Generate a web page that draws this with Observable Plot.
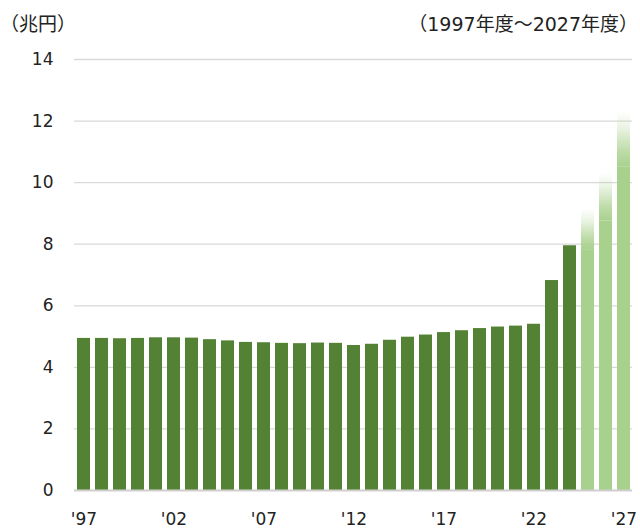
<!DOCTYPE html>
<html>
<head>
<meta charset="utf-8">
<script src="https://cdn.jsdelivr.net/npm/d3@7"></script>
<script src="https://cdn.jsdelivr.net/npm/@observablehq/plot@0.6"></script>
<style>
  html, body { margin: 0; padding: 0; background: #fff; }
  body { width: 640px; height: 529px; overflow: hidden; font-family: "DejaVu Sans", "Noto Sans CJK JP", sans-serif; color: #222; }
  .head { display: flex; justify-content: space-between; align-items: center; height: 40px; padding: 4px 2px 0 0; box-sizing: border-box; font-size: 19px; font-family: "DejaVu Sans", "Noto Sans CJK JP", sans-serif; }
  #chart svg { display: block; }
</style>
</head>
<body>
<div class="head"><span>（兆円）</span><span>（1997年度～2027年度）</span></div>
<div id="chart"></div>
<script>
// Fiscal years
const years = d3.range(1997, 2028);
// Defense budget, trillion yen (solid portion)
const values = [
  4.94, 4.94, 4.93, 4.94, 4.96, 4.96, 4.95, 4.90, 4.86, 4.81,
  4.80, 4.78, 4.77, 4.79, 4.78, 4.71, 4.75, 4.88, 4.98, 5.05,
  5.13, 5.19, 5.26, 5.31, 5.34, 5.40, 6.82, 7.95,
  7.80, 8.75, 10.50
];
// Upper end of the faded (projected) range for the last three years
const projYears = [2025, 2026, 2027];
const projTop = [9.15, 10.30, 12.30];
// Axis ticks
const yTicks = [0, 2, 4, 6, 8, 10, 12, 14];
const xTicks = [1997, 2002, 2007, 2012, 2017, 2022, 2027];

const data = years.map((y, i) => ({year: y, value: values[i], proj: projYears.includes(y)}));
const projData = projYears.map((y, i) => ({year: y, base: values[years.indexOf(y)], top: projTop[i]}));

const dark = "#548235";
const light = "#a9d18e";

const chart = Plot.plot({
  width: 640,
  height: 489,
  marginTop: 19,
  marginBottom: 39,
  marginLeft: 74,
  marginRight: 8,
  style: {fontFamily: "'DejaVu Sans', 'Noto Sans CJK JP', sans-serif", fontSize: "17px", color: "#222", background: "#fff"},
  x: {type: "band", domain: years, paddingInner: 0.3, paddingOuter: 0.15, label: null},
  y: {domain: [0, 14], label: null},
  marks: [
    Plot.ruleY(yTicks.filter(d => d > 0), {stroke: "#d9d9d9", strokeWidth: 1.3}),
    Plot.barY(data, {x: "year", y: "value", fill: d => d.proj ? light : dark}),
    Plot.barY(projData, {x: "year", y1: "base", y2: "top", fill: "url(#fade)"}),
    Plot.ruleY([0], {stroke: "#cfcfcf", strokeWidth: 2}),
    Plot.axisY({ticks: yTicks, tickSize: 0, tickPadding: 21, label: null, fontSize: 17}),
    Plot.axisX({ticks: xTicks, tickSize: 0, tickPadding: 22, tickFormat: d => "'" + String(d).slice(2), label: null, fontSize: 17})
  ],
  color: {type: "identity"}
});

// gradient definition for the faded tops
const ns = "http://www.w3.org/2000/svg";
const defs = document.createElementNS(ns, "defs");
const grad = document.createElementNS(ns, "linearGradient");
grad.setAttribute("id", "fade");
grad.setAttribute("x1", "0"); grad.setAttribute("y1", "1");
grad.setAttribute("x2", "0"); grad.setAttribute("y2", "0");
[[0, 1], [0.3, 0.75], [0.7, 0.25], [1, 0]].forEach(([o, a]) => {
  const s = document.createElementNS(ns, "stop");
  s.setAttribute("offset", o);
  s.setAttribute("stop-color", light);
  s.setAttribute("stop-opacity", a);
  grad.appendChild(s);
});
defs.appendChild(grad);
chart.insertBefore(defs, chart.firstChild);

document.getElementById("chart").appendChild(chart);
</script>
</body>
</html>
